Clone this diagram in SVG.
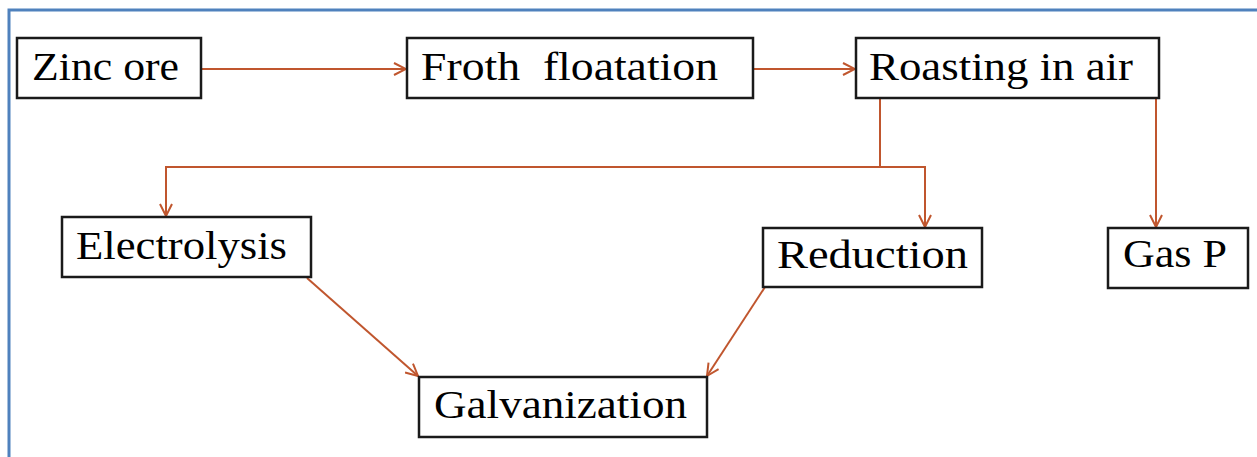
<svg xmlns="http://www.w3.org/2000/svg" width="1257" height="457" viewBox="0 0 1257 457">
<style>
.box{fill:#fff;stroke:#1a1a1a;stroke-width:2.5}
.lbl{font-family:'Liberation Serif','DejaVu Serif','Times New Roman',serif;font-size:40px;fill:#000}
.con{fill:none;stroke:#C0562E;stroke-width:2}
.frame{fill:none;stroke:#4F81BD;stroke-width:3}
</style>
<defs>
<marker id="arr" viewBox="0 0 14 14" refX="13" refY="7" markerWidth="14" markerHeight="14" markerUnits="userSpaceOnUse" orient="auto">
<path d="M1,1 L13,7 L1,13" fill="none" stroke="#C0562E" stroke-width="2"/>
</marker>
</defs>
<rect width="1257" height="457" fill="#fff"/>
<path class="frame" d="M9,460 V10 H1260"/>
<g id="connectors">
<line class="con" x1="201" y1="69" x2="406" y2="69" marker-end="url(#arr)"/>
<line class="con" x1="753" y1="69" x2="855" y2="69" marker-end="url(#arr)"/>
<polyline class="con" points="880,98 880,167 166,167 166,216" marker-end="url(#arr)"/>
<polyline class="con" points="880,167 925,167 925,227" marker-end="url(#arr)"/>
<line class="con" x1="1156" y1="98" x2="1156" y2="227" marker-end="url(#arr)"/>
<line class="con" x1="307" y1="278" x2="418" y2="376" marker-end="url(#arr)"/>
<line class="con" x1="765" y1="287" x2="707" y2="376" marker-end="url(#arr)"/>
</g>
<g id="zinc-ore">
<rect class="box" x="17" y="38" width="184" height="60"/>
<text class="lbl" font-family="Liberation Serif, DejaVu Serif, serif" x="32" y="80" textLength="147" lengthAdjust="spacingAndGlyphs">Zinc ore</text>
</g>
<g id="froth-floatation">
<rect class="box" x="407" y="38" width="346" height="60"/>
<text class="lbl" font-family="Liberation Serif, DejaVu Serif, serif" x="421" y="80" textLength="297" lengthAdjust="spacingAndGlyphs" xml:space="preserve">Froth  floatation</text>
</g>
<g id="roasting">
<rect class="box" x="856" y="38" width="303" height="60"/>
<text class="lbl" font-family="Liberation Serif, DejaVu Serif, serif" x="869" y="80" textLength="264" lengthAdjust="spacingAndGlyphs">Roasting in air</text>
</g>
<g id="electrolysis">
<rect class="box" x="62" y="217" width="249" height="60"/>
<text class="lbl" font-family="Liberation Serif, DejaVu Serif, serif" x="76" y="259" textLength="211" lengthAdjust="spacingAndGlyphs">Electrolysis</text>
</g>
<g id="reduction">
<rect class="box" x="763" y="228" width="219" height="59"/>
<text class="lbl" font-family="Liberation Serif, DejaVu Serif, serif" x="777" y="268" textLength="191" lengthAdjust="spacingAndGlyphs">Reduction</text>
</g>
<g id="gas-p">
<rect class="box" x="1108" y="228" width="140" height="60"/>
<text class="lbl" font-family="Liberation Serif, DejaVu Serif, serif" x="1123" y="267" textLength="104" lengthAdjust="spacingAndGlyphs">Gas P</text>
</g>
<g id="galvanization">
<rect class="box" x="419" y="377" width="288" height="60"/>
<text class="lbl" font-family="Liberation Serif, DejaVu Serif, serif" x="434" y="418" textLength="253" lengthAdjust="spacingAndGlyphs">Galvanization</text>
</g>
</svg>
